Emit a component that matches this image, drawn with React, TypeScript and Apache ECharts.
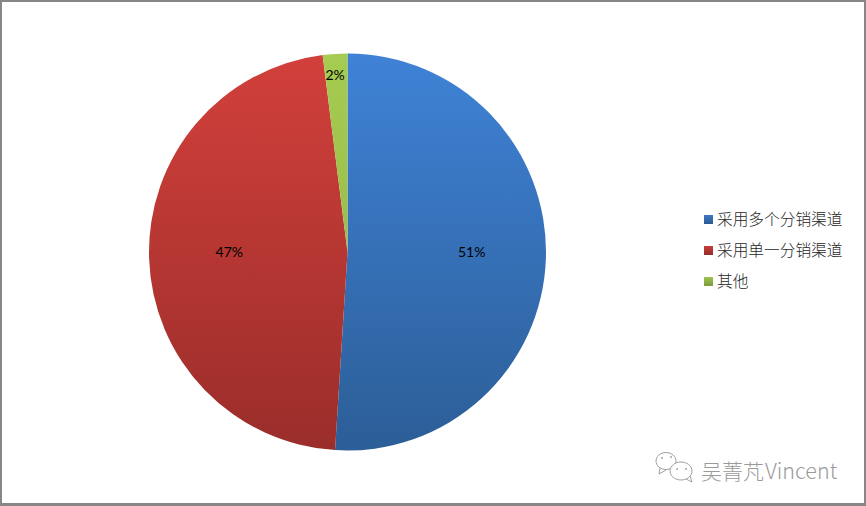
import React, { useEffect, useRef } from "react";
import * as echarts from "echarts";

const categories = ["采用多个分销渠道", "采用单一分销渠道", "其他"];
const values = [51, 47, 2];
const topColors = ["#3f82d6", "#d2403b", "#a6cc51"];
const bottomColors = ["#2c5e97", "#9a2d2a", "#8fb045"];
const legendTops = ["#3f78c4", "#c63f3b", "#9dc24e"];
const legendBottoms = ["#2a5a92", "#952b28", "#7d9c3c"];
const labelShift = [[22, -4], [-16, -4], [-6, -75]];
const watermarkCn = "吴菁芃";
const watermarkEn = "Vincent";

const W = 866;
const H = 506;
const CX = 347.5;
const CY = 252;
const R = 198.5;

export default function App() {
  const ref = useRef<HTMLDivElement>(null);
  useEffect(() => {
    const chart = echarts.init(ref.current!, undefined, { renderer: "svg" });
    const legendRows = categories.map((name, i) => ({
      type: "group",
      children: [
        {
          type: "rect",
          shape: { x: 704, y: 215 + i * 31, width: 9, height: 9 },
          style: {
            fill: new echarts.graphic.LinearGradient(0, 0, 0, 1, [
              { offset: 0, color: legendTops[i] },
              { offset: 1, color: legendBottoms[i] },
            ]),
          },
        },
        {
          type: "text",
          x: 717,
          y: 218.5 + i * 31,
          style: {
            text: name,
            fill: "#262626",
            font: '300 15.7px "Noto Sans CJK SC"',
            textVerticalAlign: "middle",
          },
        },
      ],
    }));
    const bubble = (cx: number, cy: number, rx: number, ry: number, tail: number[][]) => [
      { type: "ellipse", shape: { cx, cy, rx, ry }, style: { fill: "rgba(255,255,255,0.9)", stroke: "#a0a0a0", lineWidth: 1 } },
      { type: "polyline", shape: { points: tail }, style: { fill: "none", stroke: "#a0a0a0", lineWidth: 1 } },
    ];
    chart.setOption({
      animation: false,
      backgroundColor: "#ffffff",
      series: [
        {
          type: "pie",
          center: [CX, CY],
          radius: [0, R],
          startAngle: 90,
          clockwise: true,
          silent: true,
          data: categories.map((name, i) => ({
            name,
            value: values[i],
            itemStyle: {
              color: {
                type: "linear",
                x: 0,
                y: CY - R,
                x2: 0,
                y2: CY + R,
                global: true,
                colorStops: [
                  { offset: 0, color: topColors[i] },
                  { offset: 1, color: bottomColors[i] },
                ],
              },
            },
          })),
          label: {
            show: true,
            position: "inside",
            formatter: "{c}%",
            color: "#000000",
            fontFamily: "Lato",
            fontSize: 14,
          },
          labelLine: { show: false },
          labelLayout: (p: any) => ({
            dx: labelShift[p.dataIndex][0],
            dy: labelShift[p.dataIndex][1],
          }),
        },
      ],
      graphic: [
        {
          type: "rect",
          silent: true,
          shape: { x: 1, y: 1, width: 864, height: 503 },
          style: { fill: "none", stroke: "#878787", lineWidth: 2 },
        },
        {
          type: "rect",
          silent: true,
          shape: { x: 0, y: 503, width: 866, height: 3 },
          style: { fill: "#878787" },
        },
        ...legendRows,
        {
          type: "group",
          children: [
            ...bubble(666, 461, 10, 8.5, [[660, 468], [659, 474], [666, 470]]),
            ...bubble(681, 471, 11, 9, [[686, 479], [692, 482], [690, 476]]),
            { type: "circle", shape: { cx: 662, cy: 458, r: 1 }, style: { fill: "#aaaaaa" } },
            { type: "circle", shape: { cx: 671, cy: 457, r: 1 }, style: { fill: "#aaaaaa" } },
            { type: "circle", shape: { cx: 677, cy: 469, r: 1 }, style: { fill: "#aaaaaa" } },
            { type: "circle", shape: { cx: 686, cy: 469, r: 1 }, style: { fill: "#aaaaaa" } },
          ],
        },
        {
          type: "text",
          x: 701,
          y: 470,
          style: {
            text: watermarkCn,
            fill: "#9a9a9a",
            font: '300 21px "Noto Sans CJK SC"',
            textVerticalAlign: "middle",
          },
        },
        {
          type: "text",
          x: 765,
          y: 469,
          style: {
            text: watermarkEn,
            fill: "#9a9a9a",
            font: '300 21.5px "Noto Sans CJK SC"',
            textVerticalAlign: "middle",
          },
        },
      ],
    });
    return () => chart.dispose();
  }, []);
  return (
    <div
      ref={ref}
      style={{ position: "fixed", left: 0, top: 0, width: W, height: H }}
    />
  );
}
